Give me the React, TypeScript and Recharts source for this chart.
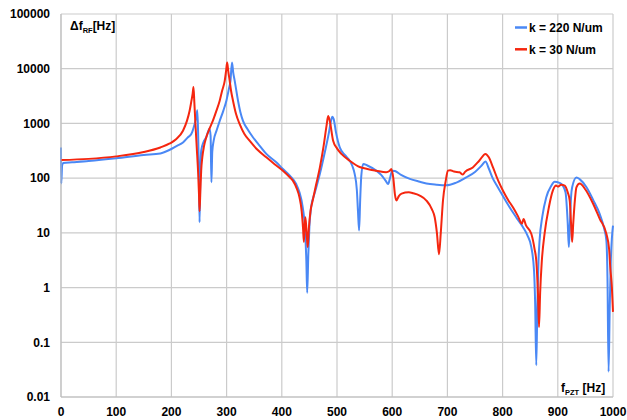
import { CartesianGrid, Line, LineChart, XAxis, YAxis } from "recharts"

// k = 220 N/um (blue)
const blueFreq = [
  0, 0.5, 2, 4, 20, 50, 100, 150, 180, 197, 210, 221, 230, 236, 242, 245, 247, 248.5, 250, 251, 252.5, 254,
  258, 263, 269, 271, 272.5, 274, 276.5, 282, 287.5, 294, 299.6, 304, 307, 309.8, 312, 314.7, 320.7, 325,
  329.7, 338, 348, 360, 372, 390, 402, 415, 426, 432, 438, 442, 444.5, 446, 448, 450, 453, 460, 469, 478,
  485, 489, 491.6, 494, 498, 505, 515, 523, 528, 532, 536, 538, 540, 542, 544, 547.5, 555, 571, 580, 588,
  592.6, 596, 600, 605, 616, 632, 650, 662, 680, 698, 715, 734, 750, 762, 769, 775, 782, 789, 795, 800,
  813, 825, 837, 845, 852, 857, 859, 861, 863, 865, 867, 872, 879, 888, 894, 903, 909, 914, 918, 920,
  922, 924, 926, 933.7, 940, 952, 964, 976, 984, 988, 990, 992, 994, 996, 998, 1000,
]
const blueVal = [
  364, 80, 170, 190, 195, 205, 230, 265, 283, 330, 390, 450, 560, 640, 970, 1300, 1750, 600, 100, 15.7, 120, 317,
  450, 553, 800, 600, 84, 300, 480, 750, 1110, 1700, 2600, 4200, 6000, 13000, 8500, 6000, 2600, 1600,
  1110, 780, 553, 390, 277, 195, 147, 110, 78, 55, 29, 12, 3, 0.8, 4, 13, 29, 55, 120, 300,
  650, 1100, 1330, 1200, 700, 364, 260, 208, 165, 120, 60, 25, 11.1, 40, 110, 182, 170, 137, 115, 90,
  78, 100, 137, 135, 115, 97, 86, 80, 76, 74, 82, 103, 130, 170, 202, 150, 100, 75, 59, 48,
  29, 19, 12.7, 9, 5.5, 2, 0.5, 0.038, 0.5, 3, 7.3, 20, 44.5, 72, 86, 82, 73, 55, 15, 5.5,
  15, 45, 68, 103, 95, 68, 40, 22, 12, 7.3, 1.5, 0.029, 0.4, 3, 8, 13.6,
]

// k = 30 N/um (red)
const redFreq = [
  0, 50, 100, 150, 180, 197, 209, 221, 228, 233, 236, 238.5, 240, 241.5, 243.5, 246, 248.5, 250, 251, 252.5,
  254, 256, 259, 263, 269, 275, 281.5, 287.5, 292, 296.6, 299, 301, 303, 305.6, 308, 311.6, 317, 323.7, 332,
  342, 356, 372, 387, 402, 414, 420, 427, 432, 436, 438.5, 440, 441.5, 442.7, 444.5, 446, 447, 449, 452,
  456, 462, 469, 476, 481, 484, 487, 493, 500, 508, 523, 541, 555, 571, 589, 595, 598.5, 602, 605, 607.6,
  612, 617, 630, 638, 650, 662, 672, 677, 681, 684.8, 688, 692, 697, 701, 705, 712, 722, 728, 732, 746,
  758, 769, 775, 782.6, 792, 800.7, 810, 819, 828, 835, 838, 842, 852, 858, 861, 864, 866, 868, 871, 876,
  884, 891, 897, 900, 906, 912.5, 918, 921.6, 924, 926, 928, 931, 933.7, 939.7, 950, 964, 976, 988, 993,
  995, 998, 1000,
]
const redVal = [
  214, 225, 250, 300, 364, 430, 520, 735, 1100, 1700, 2500, 3500, 4640, 2500, 1000, 350, 120, 50, 24.8, 60,
  140, 240, 380, 553, 800, 1110, 1700, 2600, 4000, 6000, 9000, 13000, 9000, 6000, 4000, 2600, 1500, 970, 650,
  480, 330, 240, 180, 137, 105, 90, 65, 44.6, 25, 12, 6.8, 14, 19.3, 12, 7, 5.5, 12, 25,
  39, 75, 157, 400, 900, 1374, 1100, 480, 350, 277, 208, 160, 147, 137, 128, 135, 147, 100, 50, 39,
  47, 52, 55, 53, 48, 39, 27, 19.3, 10, 4.05, 10, 39, 90, 137, 140, 132, 128, 116, 130, 157,
  210, 277, 240, 157, 90, 59, 40, 29, 20, 14.7, 18, 14, 9.6, 5, 3.1, 0.8, 0.19, 0.8, 3, 9.6,
  30, 59, 73, 70, 76, 73, 55, 39, 15, 6.8, 15, 40, 68, 80, 62, 34, 18, 9.6, 5,
  2.37, 1, 0.36,
]

const xTicks = [0, 100, 200, 300, 400, 500, 600, 700, 800, 900, 1000]
const yTicks = [0.01, 0.1, 1, 10, 100, 1000, 10000, 100000]

const blueData = blueFreq.map((f, i) => ({ f, v: blueVal[i] }))
const redData = redFreq.map((f, i) => ({ f, v: redVal[i] }))

const BLUE = "#4a88f5"
const RED = "#f5260f"
const FONT = "'Liberation Sans', Arial, sans-serif"

export default function App() {
  const tick = { fontSize: 12, fontWeight: "bold", fill: "#000", fontFamily: FONT }
  return (
    <div style={{ position: "absolute", left: 0, top: 0, width: 627, height: 420, background: "#fff" }}>
      <LineChart width={627} height={420} margin={{ top: 14, right: 14, bottom: 3, left: 0 }}>
        <CartesianGrid stroke="#cbcbcb" strokeWidth={1.2} />
        <XAxis
          dataKey="f"
          type="number"
          domain={[0, 1000]}
          ticks={xTicks}
          height={20}
          tick={tick}
          tickLine={false}
          tickSize={0}
          tickMargin={10}
          axisLine={{ stroke: "#bdbdbd" }}
        />
        <YAxis
          type="number"
          scale="log"
          domain={[0.01, 100000]}
          ticks={yTicks}
          allowDataOverflow
          width={61}
          tick={tick}
          tickLine={false}
          tickSize={0}
          tickMargin={11}
          axisLine={{ stroke: "#bdbdbd" }}
        />
        <Line data={blueData} dataKey="v" type="monotone" stroke={BLUE} strokeWidth={2} dot={false} isAnimationActive={false} />
        <Line data={redData} dataKey="v" type="monotone" stroke={RED} strokeWidth={2} dot={false} isAnimationActive={false} />
      </LineChart>
      <svg width={627} height={420} style={{ position: "absolute", left: 0, top: 0, pointerEvents: "none" }}>
        <g fontFamily={FONT} fontWeight="bold" fill="#000">
          <text x={70} y={30} fontSize={12}>
            Δf<tspan fontSize={7.5} dy={3}>RF</tspan>
            <tspan fontSize={12} dy={-3}>[Hz]</tspan>
          </text>
          <text x={561} y={392} fontSize={12}>
            f<tspan fontSize={7.5} dy={3}>PZT</tspan>
            <tspan fontSize={12} dy={-3}> [Hz]</tspan>
          </text>
          <line x1={515} x2={527} y1={27.5} y2={27.5} stroke={BLUE} strokeWidth={2.5} />
          <text x={529} y={32} fontSize={12}>k = 220 N/um</text>
          <line x1={515} x2={527} y1={49.3} y2={49.3} stroke={RED} strokeWidth={2.5} />
          <text x={529} y={53.6} fontSize={12}>k = 30 N/um</text>
        </g>
      </svg>
    </div>
  )
}
